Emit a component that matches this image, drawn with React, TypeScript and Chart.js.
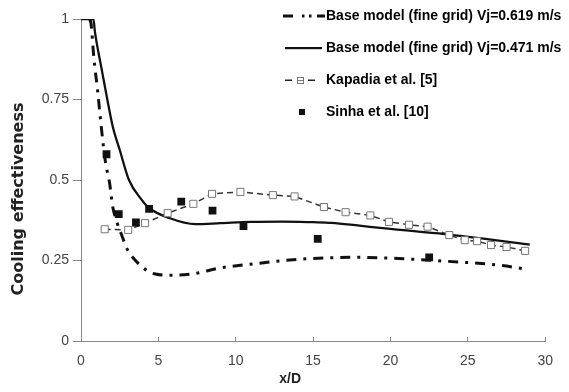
import React, { useEffect, useRef } from 'react';
import { Chart, registerables } from 'chart.js';

Chart.register(...registerables);

// ---- data ----
const xTickValues = [0, 5, 10, 15, 20, 25, 30];
const yTickValues = [0, 0.25, 0.5, 0.75, 1];

const seriesNames = [
  'Base model (fine grid) Vj=0.619 m/s',
  'Base model (fine grid) Vj=0.471 m/s',
  'Kapadia et al. [5]',
  'Sinha et al. [10]',
];

const fast619X = [0.55, 0.65, 0.83, 1.08, 1.21, 1.4, 1.6, 1.85, 2.04, 2.35, 2.7, 2.9, 3.6, 4.4, 4.8, 5.9, 7.4, 8.9, 11.4, 14.2, 17.8, 21.4, 23.5, 26.9, 28.8];
const fast619Y = [1.0, 0.985, 0.88, 0.775, 0.712, 0.625, 0.55, 0.49, 0.42, 0.365, 0.32, 0.293, 0.246, 0.215, 0.208, 0.204, 0.21, 0.226, 0.241, 0.254, 0.26, 0.254, 0.248, 0.236, 0.223];

const slow471X = [0, 0.8, 0.9, 1.3, 1.7, 2.05, 2.5, 3.1, 3.9, 4.4, 5.7, 7.4, 9, 11, 13, 15, 16.2, 18, 20, 23.5, 26, 29];
const slow471Y = [1, 1, 0.96, 0.853, 0.75, 0.666, 0.594, 0.5, 0.44, 0.413, 0.382, 0.363, 0.366, 0.37, 0.371, 0.369, 0.367, 0.358, 0.348, 0.332, 0.318, 0.299];

const kapadiaX = [1.53, 3.05, 4.14, 5.6, 7.26, 8.47, 10.3, 12.4, 13.8, 15.7, 17.1, 18.7, 19.9, 21.2, 22.4, 23.8, 24.8, 25.6, 26.5, 27.5, 28.7];
const kapadiaY = [0.347, 0.345, 0.366, 0.397, 0.426, 0.457, 0.463, 0.453, 0.449, 0.416, 0.4, 0.39, 0.37, 0.361, 0.355, 0.329, 0.313, 0.31, 0.298, 0.292, 0.28];

const sinhaX = [1.65, 2.44, 3.55, 4.4, 6.48, 8.5, 10.5, 15.3, 22.5];
const sinhaY = [0.58, 0.394, 0.368, 0.41, 0.433, 0.405, 0.357, 0.317, 0.26];

const toPoints = (xs: number[], ys: number[]) => xs.map((x, i) => ({ x, y: ys[i] }));

function makeSymbol(draw: (g: CanvasRenderingContext2D) => void) {
  const c = document.createElement('canvas');
  c.width = 50;
  c.height = 14;
  const g = c.getContext('2d')!;
  draw(g);
  return c;
}

const FONT = '"Liberation Sans", Arial, sans-serif';

export default function App() {
  const ref = useRef<HTMLCanvasElement>(null);

  useEffect(() => {
    document.body.style.margin = '0';
    const canvas = ref.current!;

    const symbols = [
      makeSymbol((g) => {
        g.fillStyle = '#111';
        g.fillRect(7, 5.5, 10, 3);
        g.fillRect(26, 5.5, 2.5, 3);
        g.fillRect(33, 5.5, 2.5, 3);
        g.fillRect(41, 5.5, 8, 3);
      }),
      makeSymbol((g) => {
        g.fillStyle = '#111';
        g.fillRect(9, 6, 37, 2.2);
      }),
      makeSymbol((g) => {
        g.fillStyle = '#222';
        g.fillRect(9, 6.5, 7, 1.5);
        g.fillRect(32, 6.5, 7, 1.5);
        g.fillStyle = '#fff';
        g.fillRect(21, 4, 6, 6);
        g.strokeStyle = '#777';
        g.lineWidth = 1;
        g.strokeRect(21.5, 4.5, 6, 6);
        g.fillStyle = '#777';
        g.fillRect(21.5, 7, 6, 1);
      }),
      makeSymbol((g) => {
        g.fillStyle = '#111';
        g.fillRect(23, 4, 6, 6);
      }),
    ];

    const shiftTitle = (scale: any, dx: number, dy: number) => {
      if (!scale || scale.__shifted) return;
      const orig = scale.drawTitle.bind(scale);
      scale.drawTitle = function () {
        const c = this.ctx;
        c.save();
        c.translate(dx, dy);
        orig();
        c.restore();
      };
      scale.__shifted = true;
    };

    const layoutTweaks = {
      id: 'layoutTweaks',
      afterLayout(chart: any) {
        const lg = chart.legend;
        if (lg) {
          const w = lg.width;
          lg.left = 265;
          lg.right = 265 + w + 20;
          lg.top = -9;
          lg.bottom = 200;
        }
        shiftTitle(chart.scales.y, 0, 19);
        shiftTitle(chart.scales.x, -23, 0);
      },
    };

    const chart = new Chart(canvas, {
      type: 'scatter',
      data: {
        datasets: [
          {
            label: seriesNames[0],
            data: toPoints(fast619X, fast619Y),
            showLine: true,
            borderColor: '#111',
            borderWidth: 3,
            borderDash: [10, 7, 3, 7],
            pointRadius: 0,
            tension: 0.4,
            cubicInterpolationMode: 'monotone',
            order: 3,
          },
          {
            label: seriesNames[1],
            data: toPoints(slow471X, slow471Y),
            showLine: true,
            borderColor: '#111',
            borderWidth: 2.3,
            pointRadius: 0,
            tension: 0.4,
            cubicInterpolationMode: 'monotone',
            order: 2,
          },
          {
            label: seriesNames[2],
            data: toPoints(kapadiaX, kapadiaY),
            showLine: true,
            borderColor: '#333',
            borderWidth: 1.5,
            borderDash: [6, 4],
            pointStyle: 'rect',
            pointRadius: 5,
            pointBorderColor: '#777',
            pointBackgroundColor: '#fff',
            pointBorderWidth: 1,
            tension: 0,
            order: 1,
          },
          {
            label: seriesNames[3],
            data: toPoints(sinhaX, sinhaY),
            showLine: false,
            pointStyle: 'rect',
            pointRadius: 5.5,
            pointBorderColor: '#111',
            pointBackgroundColor: '#111',
            pointBorderWidth: 0,
            order: 0,
          },
        ] as any,
      },
      options: {
        animation: false,
        responsive: true,
        maintainAspectRatio: false,
        layout: { padding: { left: 0, right: 16, top: 19, bottom: 0 } },
        plugins: {
          tooltip: { enabled: false },
          legend: {
            position: 'chartArea',
            align: 'start',
            labels: {
              usePointStyle: true,
              pointStyleWidth: 36,
              boxHeight: 14,
              padding: 18,
              color: '#1a1a1a',
              font: { family: FONT, size: 14, weight: 'bold' },
              generateLabels: () =>
                seriesNames.map((name, i) => ({
                  text: name,
                  pointStyle: symbols[i],
                  fillStyle: '#111',
                  strokeStyle: '#111',
                  lineWidth: 0,
                  hidden: false,
                  datasetIndex: i,
                })),
            },
          } as any,
        },
        scales: {
          x: {
            type: 'linear',
            min: 0,
            max: 30,
            afterBuildTicks: (s: any) => {
              s.ticks = xTickValues.map((v) => ({ value: v }));
            },
            afterFit: (s: any) => {
              s.height = 51;
            },
            ticks: {
              color: '#444',
              padding: 16,
              callback: (v: any) => String(v),
              font: { family: FONT, size: 14 },
            },
            grid: { drawOnChartArea: false, drawTicks: true, tickLength: -4, tickColor: '#888' },
            border: { display: true, color: '#888', width: 1 },
            title: {
              display: true,
              text: 'x/D',
              color: '#222',
              padding: { top: 0, bottom: 4 },
              font: { family: FONT, size: 14, weight: 'bold' },
            },
          },
          y: {
            type: 'linear',
            min: 0,
            max: 1,
            afterBuildTicks: (s: any) => {
              s.ticks = yTickValues.map((v) => ({ value: v }));
            },
            afterFit: (s: any) => {
              s.width = 81;
            },
            ticks: {
              color: '#444',
              padding: 4,
              callback: (v: any) => String(v),
              font: { family: FONT, size: 14 },
            },
            grid: { drawOnChartArea: false, drawTicks: true, tickLength: 8, tickColor: '#888' },
            border: { display: true, color: '#888', width: 1 },
            title: {
              display: true,
              text: 'Cooling effectiveness',
              color: '#222',
              padding: { top: 9, bottom: 0 },
              font: { family: '"DejaVu Sans", sans-serif', size: 16, weight: 'bold' },
            },
          },
        },
      },
      plugins: [layoutTweaks],
    });

    return () => chart.destroy();
  }, []);

  return (
    <div style={{ position: 'absolute', left: 0, top: 0, width: 569, height: 392 }}>
      <canvas ref={ref} />
    </div>
  );
}
